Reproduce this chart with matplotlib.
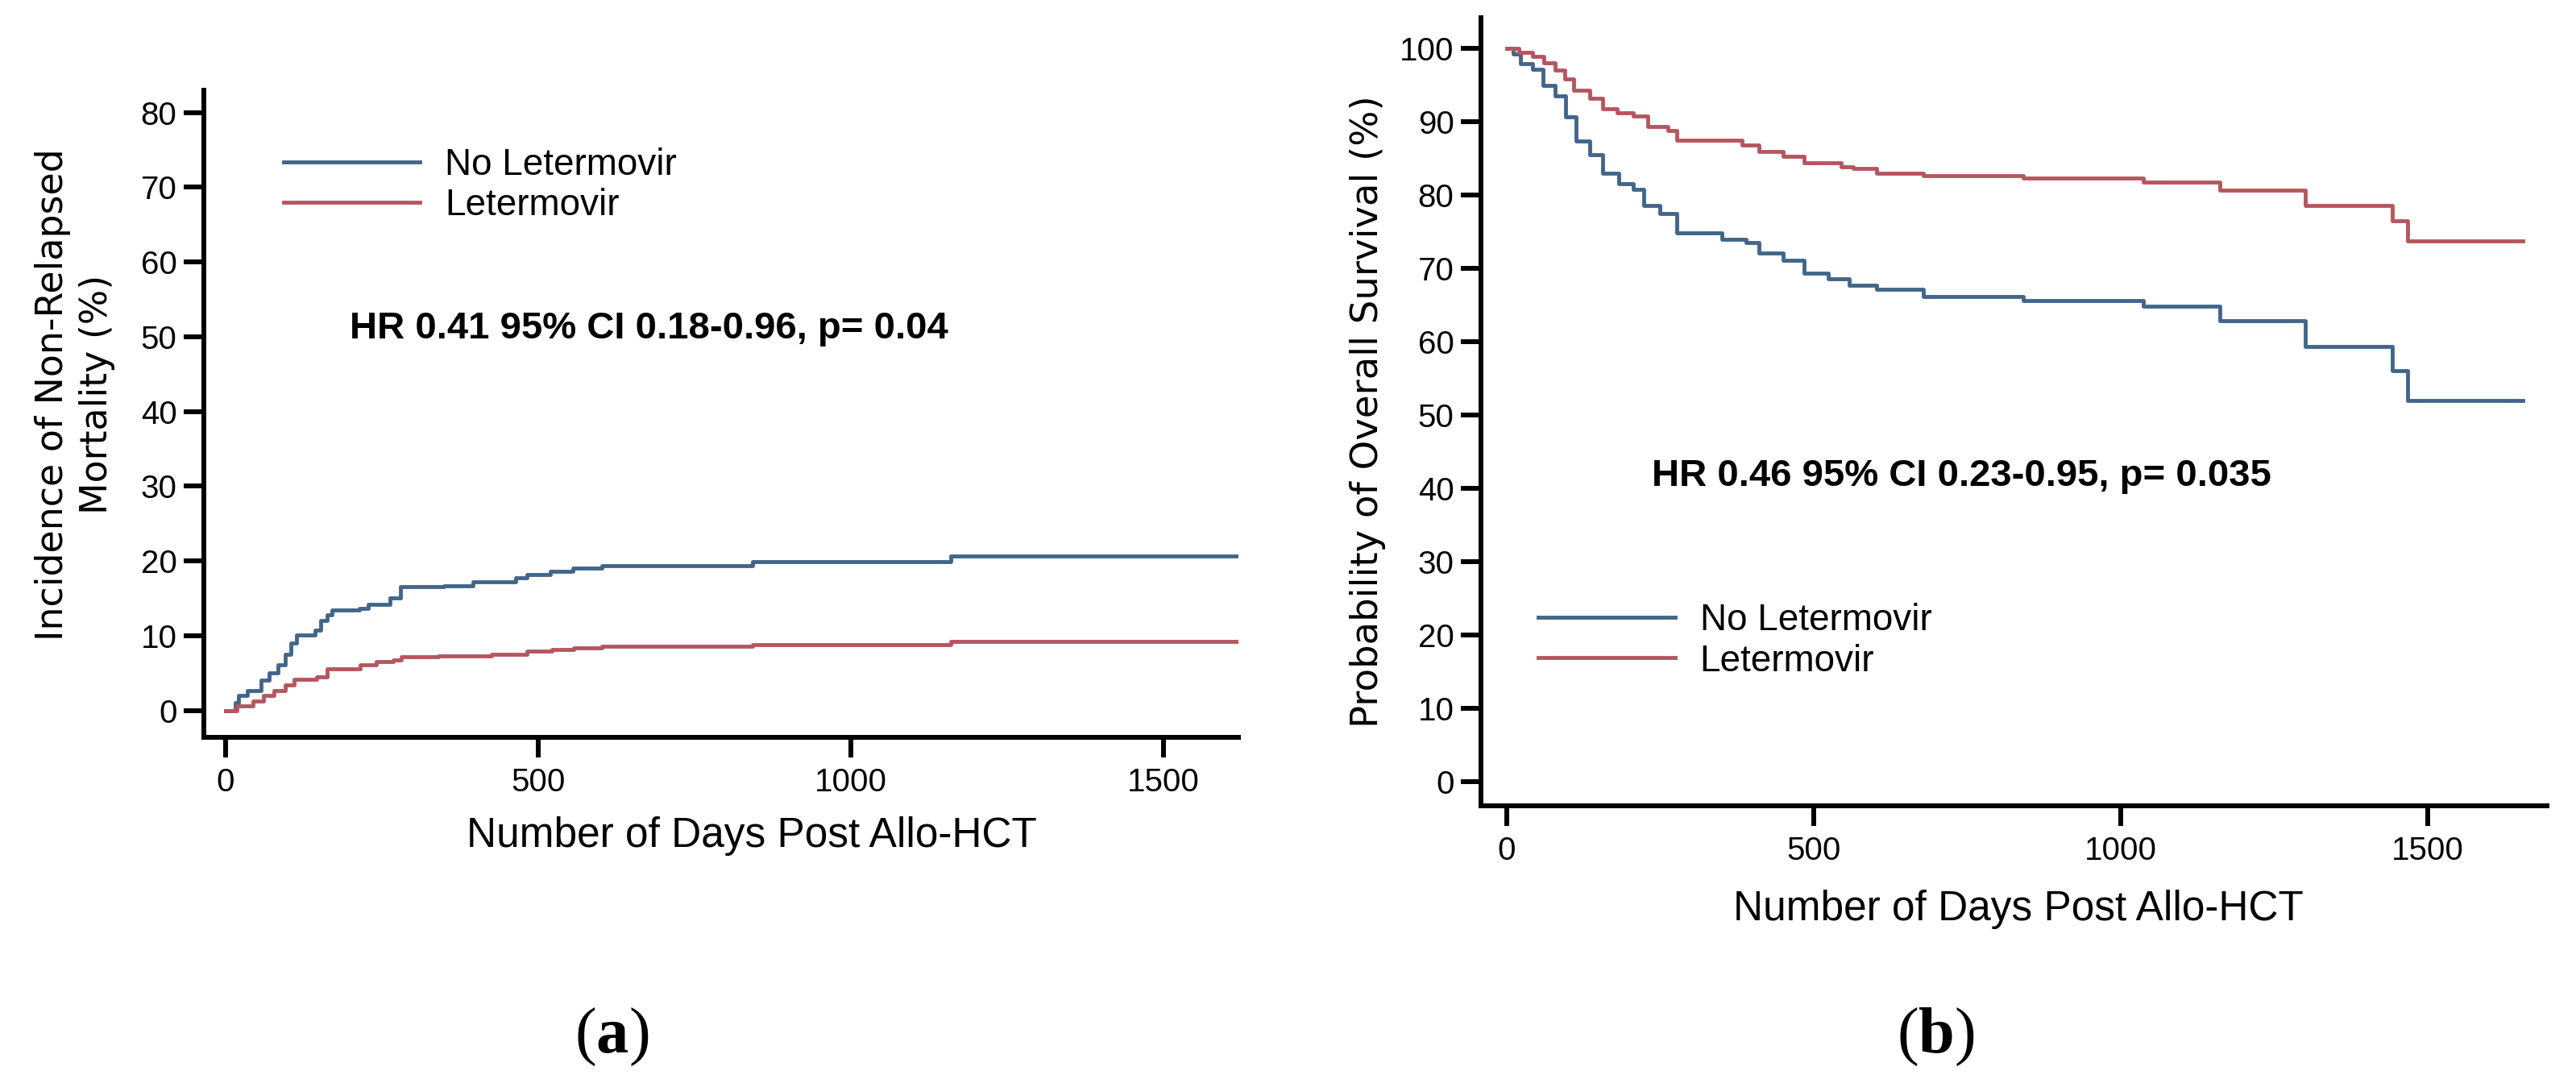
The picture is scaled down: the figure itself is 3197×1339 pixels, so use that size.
import matplotlib
matplotlib.use("Agg")
import matplotlib.pyplot as plt
import numpy as np

plt.rcParams['font.family'] = ['Liberation Sans', 'DejaVu Sans']
plt.rcParams['mathtext.fontset'] = 'custom'
plt.rcParams['mathtext.rm'] = 'Liberation Serif'
plt.rcParams['mathtext.bf'] = 'Liberation Serif:bold'

# (a) cumulative incidence of non-relapse mortality (%)
nrm_no_days = [0, 15, 21, 35, 57, 70, 84, 95, 105, 113, 143, 152, 162, 170, 214, 228, 263, 280,
               349, 396, 464, 482, 520, 555, 602, 843, 1160, 1620]
nrm_no_vals = [0, 1.0, 2.0, 2.7, 4.0, 5.0, 6.1, 7.5, 9.0, 10.1, 10.7, 12.0, 12.8, 13.4, 13.7, 14.2, 15.1, 16.6,
               16.7, 17.2, 17.7, 18.2, 18.6, 19.0, 19.4, 19.9, 20.7, 20.7]
nrm_let_days = [0, 18, 44, 60, 77, 95, 110, 146, 162, 215, 241, 268, 281, 340, 425, 482, 522, 557,
                602, 843, 1160, 1620]
nrm_let_vals = [0, 0.6, 1.3, 2.0, 2.6, 3.4, 4.2, 4.5, 5.6, 6.1, 6.5, 6.7, 7.2, 7.3, 7.5, 7.9, 8.2, 8.4,
                8.6, 8.8, 9.2, 9.2]

# (b) overall survival (%)
os_no_days = [0, 10, 22, 42, 59, 79, 96, 113, 135, 156, 183, 206, 223, 250, 277, 350, 390, 411, 450,
              484, 524, 558, 603, 678, 841, 1037, 1161, 1300, 1442, 1467, 1655]
os_no_vals = [100, 99.2, 97.9, 97.2, 95.0, 93.5, 90.7, 87.4, 85.5, 83.0, 81.5, 80.8, 78.6, 77.5, 74.8, 74.0,
              73.5, 72.1, 71.1, 69.4, 68.6, 67.7, 67.1, 66.2, 65.6, 64.9, 62.9, 59.4, 56.0, 52.0, 52.0]
os_let_days = [0, 20, 42, 60, 79, 95, 109, 135, 156, 180, 206, 230, 263, 277, 383, 411, 450, 484, 545,
               564, 603, 678, 841, 1037, 1161, 1300, 1442, 1467, 1655]
os_let_vals = [100, 99.5, 98.9, 98.0, 97.0, 95.8, 94.3, 93.2, 91.8, 91.2, 90.8, 89.4, 88.8, 87.5, 86.8,
               85.9, 85.3, 84.4, 83.9, 83.6, 83.0, 82.6, 82.3, 81.8, 80.7, 78.6, 76.5, 73.8, 73.8]

labels = ["No Letermovir", "Letermovir"]
blue = "#42668a"
red = "#b5565f"


def style_axes(ax):
    for s in ["top", "right"]:
        ax.spines[s].set_visible(False)
    for s in ["left", "bottom"]:
        ax.spines[s].set_linewidth(4.3)
    ax.tick_params(axis='both', length=18, width=4.3, labelsize=29, direction='out')
    ax.tick_params(axis='y', pad=6)
    ax.tick_params(axis='x', pad=9)
    ax.set_xticks([0, 500, 1000, 1500])


fig = plt.figure(figsize=(31.97, 13.39), dpi=100)

# ---- panel (a)
ax1 = fig.add_axes([0.0791, 0.3167, 0.4016, 0.5997])
ax1.step(nrm_no_days, nrm_no_vals, where='post', color=blue, lw=3.5, label=labels[0])
ax1.step(nrm_let_days, nrm_let_vals, where='post', color=red, lw=3.5, label=labels[1])
ax1.set_xlim(-35, 1620)
ax1.set_ylim(-3.6, 83)
ax1.set_yticks(np.arange(0, 81, 10))
style_axes(ax1)
ax1.set_ylabel("Incidence of Non-Relapsed\nMortality (%)", family='DejaVu Sans', fontsize=33,
               va='center', linespacing=1.3)
ax1.yaxis.set_label_coords(-0.1246, 0.53)
ax1.set_xlabel("Number of Days Post Allo-HCT", fontsize=37, va='center')
ax1.xaxis.set_label_coords(0.53, -0.153)
ax1.legend(loc='upper left', bbox_to_anchor=(0.077, 0.912), frameon=False, fontsize=33,
           handlelength=3.7, handletextpad=0.67, borderpad=0, borderaxespad=0, labelspacing=0.15)
ax1.text(0.141, 0.616, "HR 0.41 95% CI 0.18-0.96, p= 0.04", transform=ax1.transAxes,
         fontsize=34, fontweight='bold', va='baseline', ha='left')

# ---- panel (b)
ax2 = fig.add_axes([0.5749, 0.2532, 0.4138, 0.7304])
ax2.step(os_no_days, os_no_vals, where='post', color=blue, lw=3.5, label=labels[0])
ax2.step(os_let_days, os_let_vals, where='post', color=red, lw=3.5, label=labels[1])
ax2.set_xlim(-42, 1694)
ax2.set_ylim(-3.3, 104.2)
ax2.set_yticks(np.arange(0, 101, 10))
style_axes(ax2)
ax2.set_ylabel("Probability of Overall Survival (%)", family='DejaVu Sans', fontsize=33.5, va='center')
ax2.yaxis.set_label_coords(-0.106, 0.5)
ax2.set_xlabel("Number of Days Post Allo-HCT", fontsize=37, va='center')
ax2.xaxis.set_label_coords(0.504, -0.131)
ax2.legend(loc='upper left', bbox_to_anchor=(0.054, 0.258), frameon=False, fontsize=33,
           handlelength=3.7, handletextpad=0.67, borderpad=0, borderaxespad=0, labelspacing=0.15)
ax2.text(0.160, 0.406, "HR 0.46 95% CI 0.23-0.95, p= 0.035", transform=ax2.transAxes,
         fontsize=34, fontweight='bold', va='baseline', ha='left')

# panel letters
fig.text(0.2374, 0.0388, r"($\mathbf{a}$)", family='Liberation Serif', fontsize=58, ha='center', va='center')
fig.text(0.7516, 0.0388, r"($\mathbf{b}$)", family='Liberation Serif', fontsize=58, ha='center', va='center')

fig.savefig("out.png", dpi=100, facecolor='white')
